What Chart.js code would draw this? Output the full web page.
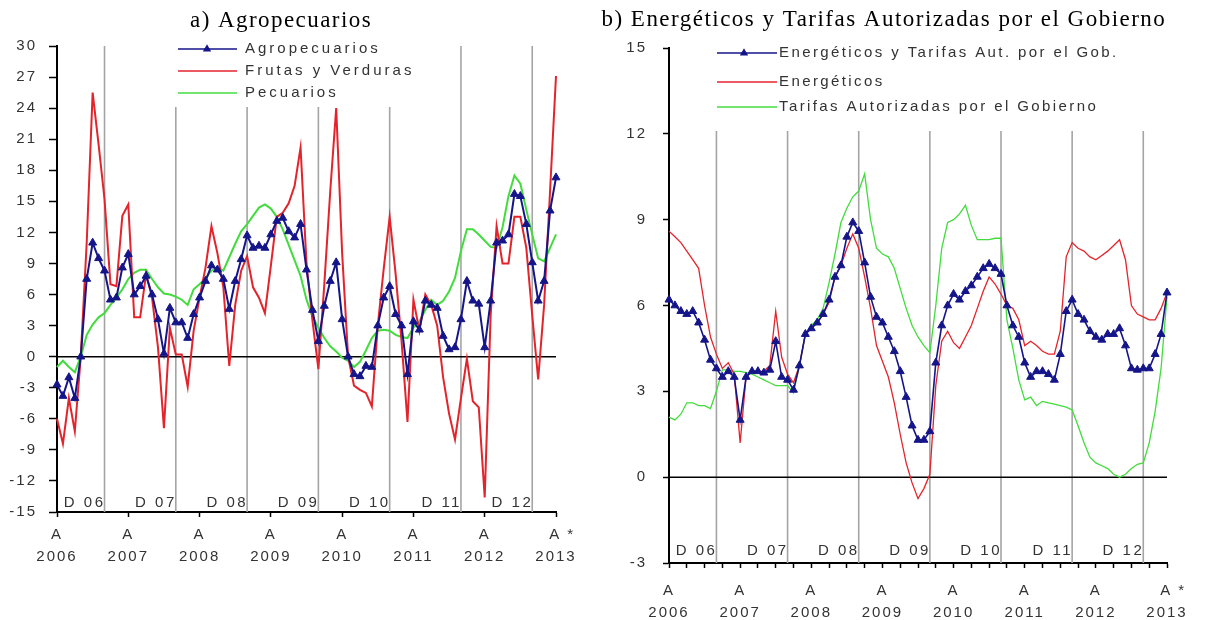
<!DOCTYPE html>
<html lang="es">
<head>
<meta charset="utf-8">
<title>Agropecuarios / Energéticos y Tarifas</title>
<script src="https://cdn.jsdelivr.net/npm/chart.js@4.4.1/dist/chart.umd.min.js"></script>
<style>
html,body{margin:0;padding:0;background:#fff;overflow:hidden;}
#wrap{position:relative;width:1207px;height:620px;background:#fff;}
#boxA{position:absolute;left:0;top:0;width:600px;height:620px;}
#boxB{position:absolute;left:600px;top:0;width:607px;height:620px;}
canvas{display:block;}
</style>
</head>
<body>
<div id="wrap">
  <div id="boxA"><canvas id="chartA" width="600" height="620"></canvas></div>
  <div id="boxB"><canvas id="chartB" width="607" height="620"></canvas></div>
</div>
<script>
// ---------- DATA (monthly, April 2006 .. April 2013) ----------
const agropecuarios = [-2.7,-3.8,-2.0,-4.0,0.0,7.5,11.0,9.5,8.3,5.5,5.7,8.6,
  9.9,6.0,6.8,7.8,6.0,3.6,0.3,4.7,3.3,3.3,1.8,4.1,
  5.7,7.3,8.8,8.4,7.5,4.6,7.3,9.4,11.7,10.5,10.7,10.5,
  11.8,13.1,13.4,12.1,11.5,12.8,8.4,4.5,1.5,4.9,7.3,9.1,
  3.6,0.0,-1.7,-1.9,-0.9,-1.0,3.0,5.7,6.8,4.1,3.0,-1.7,
  3.4,2.6,5.4,5.0,4.7,2.0,0.7,0.9,3.6,7.3,5.4,5.1,
  0.9,5.4,11.0,11.2,11.8,15.7,15.5,12.8,9.1,5.4,7.3,14.1,17.3];
const frutasVerduras = [-6.0,-8.4,-4.0,-7.2,0.0,11.0,25.5,20.5,15.2,7.0,6.8,13.6,
  14.7,3.8,3.8,8.0,5.7,0.9,-6.9,2.8,0.2,0.2,-2.9,2.5,
  5.7,8.6,12.6,10.0,6.7,-0.9,5.0,8.3,9.7,6.7,5.7,4.2,
  8.8,13.5,13.9,14.8,16.5,20.2,9.0,3.5,-1.2,7.0,16.0,24.0,
  10.0,0.0,-2.8,-3.2,-3.5,-4.8,3.0,8.5,13.5,8.0,1.5,-6.3,
  5.5,2.5,6.0,5.0,3.0,-2.0,-5.5,-8.0,-4.0,-0.2,-4.3,-4.9,
  -13.6,4.0,12.6,9.0,9.0,13.5,13.5,10.5,4.0,-2.2,5.0,16.0,27.1];
const pecuarios = [-1.0,-0.4,-1.0,-1.5,0.0,2.1,3.1,3.8,4.2,5.0,5.7,6.5,
  7.5,8.1,8.4,8.4,7.5,6.7,6.1,6.0,5.8,5.5,5.0,6.5,
  7.0,7.6,8.3,8.6,8.3,9.6,10.9,12.1,12.8,13.6,14.4,14.7,
  14.3,13.5,12.3,10.8,9.3,7.8,5.5,3.9,2.8,1.8,1.0,0.5,
  -0.1,-0.4,-1.0,-0.5,0.6,1.8,2.5,2.6,2.5,2.1,1.9,1.8,
  2.8,3.4,4.5,5.5,5.0,5.4,6.3,7.6,10.2,12.3,12.3,11.8,
  11.2,10.6,10.5,12.5,15.5,17.5,16.7,14.2,11.8,9.5,9.2,10.5,11.8];

const energYTarifas = [6.2,6.0,5.8,5.7,5.8,5.4,4.8,4.1,3.8,3.5,3.7,3.5,
  2.0,3.5,3.7,3.7,3.65,3.75,4.75,3.5,3.4,3.05,3.9,5.0,
  5.2,5.4,5.7,6.2,7.0,7.4,8.4,8.9,8.6,7.5,6.3,5.6,
  5.4,4.9,4.4,3.7,2.8,1.8,1.3,1.3,1.6,4.0,5.3,6.0,
  6.4,6.2,6.5,6.7,7.0,7.3,7.45,7.3,7.1,6.0,5.3,4.9,
  4.0,3.5,3.7,3.7,3.6,3.4,4.3,5.8,6.2,5.7,5.5,5.1,
  4.9,4.8,5.0,5.0,5.2,4.6,3.8,3.75,3.8,3.8,4.3,5.0,6.45];
const energeticos = [8.6,8.4,8.2,7.9,7.6,7.3,6.0,4.9,4.3,3.8,4.0,3.6,
  1.2,3.5,3.7,3.7,3.7,3.9,5.8,4.2,3.6,3.3,3.9,5.0,
  5.2,5.4,5.7,6.1,7.0,7.4,8.0,8.5,8.0,7.0,5.9,4.6,
  4.05,3.5,2.6,1.5,0.5,-0.2,-0.75,-0.4,0.1,3.2,4.75,5.1,
  4.7,4.5,4.9,5.3,5.9,6.5,7.0,6.75,6.4,6.0,5.9,5.5,
  4.6,4.75,4.6,4.4,4.3,4.3,5.1,7.7,8.2,8.0,7.9,7.7,
  7.6,7.75,7.9,8.1,8.3,7.6,6.0,5.7,5.6,5.5,5.5,5.9,6.45];
const tarifasGob = [2.1,2.0,2.2,2.6,2.6,2.5,2.5,2.4,3.0,3.75,3.75,3.7,
  3.7,3.65,3.6,3.5,3.4,3.3,3.2,3.2,3.2,2.95,3.9,5.0,
  5.3,5.5,5.9,6.8,7.8,8.9,9.4,9.8,10.0,10.6,9.0,8.0,
  7.8,7.7,7.3,6.6,5.9,5.3,4.9,4.6,4.35,6.0,8.0,8.9,
  9.0,9.2,9.5,8.8,8.3,8.3,8.3,8.35,8.35,5.5,4.5,3.4,
  2.7,2.8,2.5,2.65,2.6,2.55,2.5,2.45,2.35,1.8,1.2,0.7,
  0.5,0.4,0.3,0.1,0.0,0.1,0.3,0.45,0.5,1.2,2.3,3.8,6.3];

const yearLabels  = ['2006','2007','2008','2009','2010','2011','2012','2013'];
const aprilLabels = ['A','A','A','A','A','A','A','  A *'];
const decMonthIdx = [8,20,32,44,56,68,80];
const decLabels   = ['D 06','D 07','D 08','D 09','D 10','D 11','D 12'];

// ---------- STYLE ----------
const BLUE = '#15158a', RED = '#e4232b', GREEN = '#42dc3c', GRIDV = '#a4a4a4', TXT = '#333333';
const FONT = '"Liberation Sans", Arial, Helvetica, sans-serif';
const SERIF = '"Liberation Serif", "Times New Roman", serif';

const monthIdx = agropecuarios.map((_, i) => i);
const pts = arr => arr.map((v, i) => ({x: monthIdx[i], y: v}));

function xTickLabel(v) {
  const k = v / 12;
  if (Number.isInteger(k) && k >= 0 && k < yearLabels.length) return [aprilLabels[k], yearLabels[k]];
  return '';
}

const lsPlugin = {
  id: 'ls',
  beforeUpdate(chart, args, o) { chart.ctx.letterSpacing = o.value || '0px'; },
  beforeDraw(chart, args, o) { chart.ctx.letterSpacing = o.value || '0px'; }
};

function triangle(ctx, x, y, r) {
  ctx.beginPath();
  ctx.moveTo(x, y - r);
  ctx.lineTo(x + r * 0.866, y + r * 0.5);
  ctx.lineTo(x - r * 0.866, y + r * 0.5);
  ctx.closePath();
  ctx.fill();
}

const decoPlugin = {
  id: 'deco',
  beforeDatasetsDraw(chart, args, o) {
    const {ctx, chartArea: a, scales: {x, y}} = chart;
    ctx.save();
    ctx.strokeStyle = GRIDV; ctx.lineWidth = 1.6;
    decMonthIdx.forEach(m => {
      const px = x.getPixelForValue(m);
      const top = (px >= o.legendLeft && px <= o.legendRight) ? o.lineTop : a.top;
      ctx.beginPath(); ctx.moveTo(px, top); ctx.lineTo(px, a.bottom); ctx.stroke();
    });
    const y0 = y.getPixelForValue(0);
    ctx.strokeStyle = '#000'; ctx.lineWidth = 1.5;
    ctx.beginPath(); ctx.moveTo(a.left, y0); ctx.lineTo(a.right, y0); ctx.stroke();
    ctx.letterSpacing = o.decLS;
    ctx.fillStyle = TXT; ctx.font = '15px ' + FONT; ctx.textAlign = 'right'; ctx.textBaseline = 'middle';
    decMonthIdx.forEach((m, i) => ctx.fillText(decLabels[i], x.getPixelForValue(m) + 1, o.decY));
    ctx.restore();
  },
  afterDraw(chart, args, o) {
    const ctx = chart.ctx;
    // title (regular weight, sized to the reference width)
    ctx.save();
    ctx.letterSpacing = '0px';
    ctx.font = '23px ' + SERIF; ctx.fillStyle = '#000'; ctx.textAlign = 'left'; ctx.textBaseline = 'alphabetic';
    const w = ctx.measureText(o.title).width;
    const ls = Math.max(-0.6, Math.min(1.5, (o.titleW - w) / o.title.length));
    ctx.letterSpacing = ls.toFixed(2) + 'px';
    const w2 = w + ls * o.title.length;
    ctx.fillText(o.title, o.titleX - w2 / 2, o.titleY);
    ctx.restore();
    // legend
    ctx.save();
    ctx.letterSpacing = o.legendLS;
    ctx.font = '15px ' + FONT; ctx.textAlign = 'left'; ctx.textBaseline = 'middle';
    chart.data.datasets.forEach((ds, i) => {
      const yy = o.legendRows[i];
      ctx.strokeStyle = ds.borderColor; ctx.lineWidth = o.legendLineW;
      ctx.beginPath(); ctx.moveTo(o.legendX0, yy); ctx.lineTo(o.legendX1, yy); ctx.stroke();
      if (ds.pointRadius > 0) { ctx.fillStyle = ds.borderColor; triangle(ctx, o.legendMarkX, yy, 4.8); }
      ctx.fillStyle = TXT; ctx.fillText(ds.label, o.legendTextX, yy);
    });
    ctx.restore();
  }
};

function build(id, p) {
  return new Chart(document.getElementById(id), {
    type: 'line',
    data: {
      datasets: p.series.map(s => ({
        label: s.label, data: pts(s.values),
        borderColor: s.color, backgroundColor: s.color, borderWidth: s.width,
        pointRadius: s.marker ? 4.6 : 0, pointStyle: 'triangle',
        pointBackgroundColor: s.color, pointBorderColor: s.color, pointBorderWidth: 1,
        tension: 0, clip: false, fill: false
      }))
    },
    options: {
      responsive: false, animation: false, events: [],
      layout: {padding: {top: p.area.top, left: 0, right: p.canvasW - p.area.right, bottom: 0}},
      plugins: {legend: {display: false}, tooltip: {enabled: false}, ls: {value: '2px'}, deco: p.deco},
      scales: {
        x: {
          type: 'linear', min: 0, max: 84,
          afterFit(s) { s.height = p.canvasH - p.area.bottom; },
          ticks: {stepSize: p.xStep, autoSkip: false, maxRotation: 0, minRotation: 0, padding: p.xPad,
                  color: TXT, font: {family: FONT, size: 15, lineHeight: 1.45}, callback: xTickLabel},
          grid: {drawOnChartArea: false, drawTicks: true, tickLength: 5, tickColor: '#000', tickWidth: 1.5},
          border: {display: true, color: '#000', width: 2}
        },
        y: {
          min: p.yMin, max: p.yMax,
          afterFit(s) { s.width = p.area.left; },
          ticks: {stepSize: 3, padding: p.yPad, color: TXT, font: {family: FONT, size: 15}},
          grid: {drawOnChartArea: false, drawTicks: true, tickLength: p.yTick, tickColor: '#000', tickWidth: 1.5},
          border: {display: true, color: '#000', width: 2}
        }
      }
    },
    plugins: [lsPlugin, decoPlugin]
  });
}

build('chartA', {
  canvasW: 600, canvasH: 620,
  area: {left: 57, right: 556, top: 46, bottom: 512},
  xStep: 12, xPad: 7, yPad: 12, yTick: 8, yMin: -15, yMax: 30,
  series: [
    {label: 'Agropecuarios', values: agropecuarios, color: BLUE, width: 2, marker: true},
    {label: 'Frutas y Verduras', values: frutasVerduras, color: RED, width: 2, marker: false},
    {label: 'Pecuarios', values: pecuarios, color: GREEN, width: 2, marker: false}
  ],
  deco: {
    title: 'a) Agropecuarios', titleX: 281, titleY: 27, titleW: 182,
    legendRows: [49, 71, 93], legendX0: 178, legendX1: 237, legendMarkX: 207, legendTextX: 245,
    legendLS: '3px', legendLineW: 1.6,
    legendLeft: 170, legendRight: 420, lineTop: 107,
    decY: 503, decLS: '2.5px'
  }
});

build('chartB', {
  canvasW: 607, canvasH: 620,
  area: {left: 69, right: 567, top: 48, bottom: 563},
  xStep: 3, xPad: 12, yPad: 16, yTick: 6, yMin: -3, yMax: 15,
  series: [
    {label: 'Energéticos y Tarifas Aut. por el Gob.', values: energYTarifas, color: BLUE, width: 1.6, marker: true},
    {label: 'Energéticos', values: energeticos, color: RED, width: 1.3, marker: false},
    {label: 'Tarifas Autorizadas por el Gobierno', values: tarifasGob, color: GREEN, width: 1.3, marker: false}
  ],
  deco: {
    title: 'b) Energéticos y Tarifas Autorizadas por el Gobierno', titleX: 284, titleY: 26, titleW: 565,
    legendRows: [53, 82, 107], legendX0: 117, legendX1: 177, legendMarkX: 144, legendTextX: 179,
    legendLS: '2.4px', legendLineW: 1.4,
    legendLeft: 0, legendRight: 9999, lineTop: 131,
    decY: 551, decLS: '2.5px'
  }
});
</script>
</body>
</html>
